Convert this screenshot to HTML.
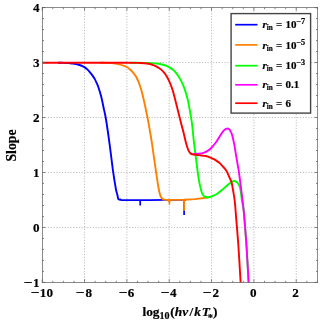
<!DOCTYPE html>
<html><head><meta charset="utf-8"><style>
html,body{margin:0;padding:0;background:#fff}
#p{position:relative;width:322px;height:322px;overflow:hidden;background:#fff;font-family:"Liberation Serif",serif;font-weight:bold;color:#000}
#t{-webkit-text-stroke:0.2px #000;position:absolute;left:0;top:0;width:322px;height:322px;will-change:transform;background:transparent}
.xt{position:absolute;width:40px;text-align:center;font-size:13.1px;line-height:15px}
.yt{position:absolute;left:0;width:39.5px;text-align:right;font-size:13.1px;line-height:15px}
.lg{position:absolute;font-size:11px;word-spacing:0.5px;-webkit-text-stroke:0.2px #000;line-height:15px;white-space:nowrap}
.lg sub{font-size:7.2px;vertical-align:baseline;position:relative;top:2px}
.lg sup{font-size:8.3px;letter-spacing:-0.3px;vertical-align:baseline;position:relative;top:-4px}
.mn{display:inline-block;transform:scaleX(1.2);transform-origin:100% 50%;margin:0 0.6px 0 1.5px}
.xl{position:absolute;left:80px;width:200px;text-align:center;top:304.1px;font-size:13.4px;line-height:15px;white-space:nowrap}
.xl sub{font-size:10px;vertical-align:baseline;position:relative;top:3px}
.xl sub.st{font-size:10.5px;margin-left:-2.2px;top:4.5px}
.yl{position:absolute;left:-39.2px;top:137.5px;width:100px;height:15px;line-height:15px;text-align:center;font-size:13.8px;transform:rotate(-90deg);transform-origin:50% 50%}
</style></head><body><div id="p">
<svg width="322" height="322" viewBox="0 0 322 322" style="position:absolute;left:0;top:0">
<rect width="322" height="322" fill="#fff"/>
<g stroke="#ababab" stroke-width="0.85" stroke-dasharray="1.1 1.7" fill="none"><line x1="84.54" y1="7.60" x2="84.54" y2="282.40"/><line x1="126.88" y1="7.60" x2="126.88" y2="282.40"/><line x1="169.22" y1="7.60" x2="169.22" y2="282.40"/><line x1="211.56" y1="7.60" x2="211.56" y2="282.40"/><line x1="253.90" y1="7.60" x2="253.90" y2="282.40"/><line x1="296.24" y1="7.60" x2="296.24" y2="282.40"/><line x1="42.40" y1="227.44" x2="317.60" y2="227.44"/><line x1="42.40" y1="172.48" x2="317.60" y2="172.48"/><line x1="42.40" y1="117.52" x2="317.60" y2="117.52"/><line x1="42.40" y1="62.56" x2="317.60" y2="62.56"/></g>
<defs><clipPath id="c"><rect x="42.40" y="7.60" width="275.20" height="274.80"/></clipPath></defs>
<g clip-path="url(#c)" fill="none" stroke-width="1.9" stroke-linejoin="round" stroke-linecap="butt">
<path stroke="#0000ff" d="M58.00,62.70 C58.67,62.72 60.23,62.75 62.00,62.80 C63.77,62.85 66.77,62.87 68.60,63.00 C70.43,63.13 71.45,63.35 73.00,63.60 C74.55,63.85 76.57,64.18 77.90,64.50 C79.23,64.82 79.92,65.07 81.00,65.50 C82.08,65.93 83.35,66.45 84.40,67.10 C85.45,67.75 86.37,68.53 87.30,69.40 C88.23,70.27 89.15,71.30 90.00,72.30 C90.85,73.30 91.62,74.30 92.40,75.40 C93.18,76.50 94.00,77.67 94.70,78.90 C95.40,80.13 95.98,81.42 96.60,82.80 C97.22,84.18 97.63,84.90 98.40,87.20 C99.17,89.50 100.27,92.87 101.20,96.60 C102.13,100.33 103.18,105.70 104.00,109.60 C104.82,113.50 105.15,114.13 106.10,120.00 C107.05,125.87 108.52,136.10 109.70,144.80 C110.88,153.50 112.17,164.83 113.20,172.20 C114.23,179.57 115.20,185.20 115.90,189.00 C116.60,192.80 117.02,193.40 117.40,195.00 C117.78,196.60 117.93,197.77 118.20,198.60 C118.47,199.43 118.87,199.77 119.00,200.00"/>
<path stroke="#0000ff" stroke-width="1.7" d="M119.00,200.00 L120.20,199.30 L121.50,200.20 L150.00,200.10 L165.00,199.90 L186.00,199.80"/>
<path stroke="#0000ff" stroke-width="1.7" d="M140.2,200 V205.4 M184.1,200 V215.1"/>
<path stroke="#ff8000" d="M100.00,62.70 C101.33,62.73 105.67,62.78 108.00,62.90 C110.33,63.02 112.17,63.17 114.00,63.40 C115.83,63.63 117.42,63.93 119.00,64.30 C120.58,64.67 122.13,65.10 123.50,65.60 C124.87,66.10 126.12,66.65 127.20,67.30 C128.28,67.95 128.98,68.58 130.00,69.50 C131.02,70.42 132.23,71.52 133.30,72.80 C134.37,74.08 135.33,75.17 136.40,77.20 C137.47,79.23 138.63,81.90 139.70,85.00 C140.77,88.10 141.50,90.38 142.80,95.80 C144.10,101.22 146.08,110.27 147.50,117.50 C148.92,124.73 150.28,132.98 151.30,139.20 C152.32,145.42 152.80,149.30 153.60,154.80 C154.40,160.30 155.33,167.00 156.10,172.20 C156.87,177.40 157.62,182.53 158.20,186.00 C158.78,189.47 159.13,191.17 159.60,193.00 C160.07,194.83 160.50,196.00 161.00,197.00 C161.50,198.00 161.97,198.52 162.60,199.00 C163.23,199.48 164.43,199.75 164.80,199.90"/>
<path stroke="#ff8000" stroke-width="1.9" d="M184.1,200 V210.8"/>
<path fill="#ff8000" stroke="none" d="M167.9,200 L170.9,200 L169.8,204.9 L169.0,204.9 Z"/>
<path stroke="#ff8000" stroke-width="1.9" d="M164.80,199.90 L184.00,199.80 L195.00,199.10 L206.00,197.70 L210.00,197.10"/>
<path stroke="#00ff00" d="M130.00,62.70 C133.00,62.73 143.67,62.77 148.00,62.90 C152.33,63.03 153.83,63.28 156.00,63.50 C158.17,63.72 159.33,63.85 161.00,64.20 C162.67,64.55 164.45,64.98 166.00,65.60 C167.55,66.22 168.88,66.97 170.30,67.90 C171.72,68.83 173.20,69.90 174.50,71.20 C175.80,72.50 176.95,74.02 178.10,75.70 C179.25,77.38 180.37,79.23 181.40,81.30 C182.43,83.37 183.40,85.65 184.30,88.10 C185.20,90.55 186.03,93.17 186.80,96.00 C187.57,98.83 188.03,100.48 188.90,105.10 C189.77,109.72 191.22,118.02 192.00,123.70 C192.78,129.38 193.00,133.90 193.60,139.20 C194.20,144.50 194.77,149.00 195.60,155.50 C196.43,162.00 197.83,173.03 198.60,178.20 C199.37,183.37 199.68,184.17 200.20,186.50 C200.72,188.83 201.23,190.78 201.70,192.20 C202.17,193.62 202.48,194.27 203.00,195.00 C203.52,195.73 204.13,196.23 204.80,196.60 C205.47,196.97 206.22,197.13 207.00,197.20 C207.78,197.27 208.50,197.23 209.50,197.00 C210.50,196.77 211.72,196.35 213.00,195.80 C214.28,195.25 215.70,194.67 217.20,193.70 C218.70,192.73 220.45,191.28 222.00,190.00 C223.55,188.72 225.17,187.17 226.50,186.00 C227.83,184.83 228.97,183.78 230.00,183.00 C231.03,182.22 231.97,181.63 232.70,181.30 C233.43,180.97 233.88,180.95 234.40,181.00 C234.92,181.05 235.33,181.33 235.80,181.60 C236.27,181.87 236.73,182.17 237.20,182.60 C237.67,183.03 238.20,183.57 238.60,184.20 C239.00,184.83 239.32,185.63 239.60,186.40 C239.88,187.17 240.03,187.40 240.30,188.80 C240.57,190.20 240.92,192.77 241.20,194.80 C241.48,196.83 241.60,198.60 242.00,201.00 C242.40,203.40 243.17,205.87 243.60,209.20 C244.03,212.53 244.12,214.87 244.60,221.00 C245.08,227.13 245.83,235.83 246.50,246.00 C247.17,256.17 248.18,274.67 248.60,282.00 C249.02,289.33 248.93,288.67 249.00,290.00"/>
<path stroke="#ff00ff" d="M192.50,154.20 C192.92,154.14 194.08,153.93 195.00,153.85 C195.92,153.77 196.97,153.77 198.00,153.70 C199.03,153.62 200.27,153.55 201.20,153.40 C202.13,153.25 202.82,153.07 203.60,152.80 C204.38,152.53 205.13,152.18 205.90,151.80 C206.67,151.42 207.43,151.02 208.20,150.50 C208.97,149.98 209.72,149.42 210.50,148.70 C211.28,147.98 212.12,147.10 212.90,146.20 C213.68,145.30 214.43,144.35 215.20,143.30 C215.97,142.25 216.73,141.07 217.50,139.90 C218.27,138.73 219.08,137.42 219.80,136.30 C220.52,135.18 221.15,134.15 221.80,133.20 C222.45,132.25 223.17,131.23 223.70,130.60 C224.23,129.97 224.60,129.69 225.00,129.40 C225.40,129.11 225.67,129.00 226.10,128.85 C226.53,128.70 227.18,128.51 227.60,128.50 C228.02,128.49 228.28,128.62 228.60,128.80 C228.92,128.98 229.18,129.22 229.50,129.60 C229.82,129.98 230.17,130.50 230.50,131.10 C230.83,131.70 231.20,132.43 231.50,133.20 C231.80,133.97 232.05,134.80 232.30,135.70 C232.55,136.60 232.75,137.50 233.00,138.60 C233.25,139.70 233.53,141.00 233.80,142.30 C234.07,143.60 234.22,144.17 234.60,146.40 C234.98,148.63 235.58,152.60 236.10,155.70 C236.62,158.80 237.27,162.53 237.70,165.00 C238.13,167.47 238.28,167.73 238.70,170.50 C239.12,173.27 239.70,177.80 240.20,181.60 C240.70,185.40 241.18,189.02 241.70,193.30 C242.22,197.58 242.82,202.68 243.30,207.30 C243.78,211.92 244.07,214.55 244.60,221.00 C245.13,227.45 245.83,235.83 246.50,246.00 C247.17,256.17 248.18,274.67 248.60,282.00 C249.02,289.33 248.93,288.67 249.00,290.00"/>
<path stroke="#ff0000" d="M42.20,62.70 C56.00,62.70 108.70,62.66 125.00,62.70 C141.30,62.74 136.07,62.77 140.00,62.95 C143.93,63.13 146.35,63.42 148.60,63.80 C150.85,64.17 151.95,64.62 153.50,65.20 C155.05,65.78 156.62,66.57 157.90,67.30 C159.18,68.03 160.17,68.72 161.20,69.60 C162.23,70.48 163.20,71.50 164.10,72.60 C165.00,73.70 165.82,74.92 166.60,76.20 C167.38,77.48 168.03,78.67 168.80,80.30 C169.57,81.93 170.43,83.93 171.20,86.00 C171.97,88.07 172.25,88.48 173.40,92.70 C174.55,96.92 176.80,106.13 178.10,111.30 C179.40,116.47 180.32,120.25 181.20,123.70 C182.08,127.15 182.62,128.88 183.40,132.00 C184.18,135.12 185.25,139.87 185.90,142.40 C186.55,144.93 186.85,145.83 187.30,147.20 C187.75,148.57 188.10,149.58 188.60,150.60 C189.10,151.62 189.65,152.68 190.30,153.30 C190.95,153.92 191.72,154.07 192.50,154.30 C193.28,154.53 193.98,154.57 195.00,154.70 C196.02,154.83 197.05,154.90 198.60,155.10 C200.15,155.30 202.85,155.68 204.30,155.90 C205.75,156.12 206.27,156.12 207.30,156.40 C208.33,156.68 209.38,157.13 210.50,157.60 C211.62,158.07 212.97,158.65 214.00,159.20 C215.03,159.75 215.87,160.33 216.70,160.90 C217.53,161.47 218.22,161.95 219.00,162.60 C219.78,163.25 220.62,164.00 221.40,164.80 C222.18,165.60 222.90,166.43 223.70,167.40 C224.50,168.37 225.48,169.50 226.20,170.60 C226.92,171.70 227.40,172.73 228.00,174.00 C228.60,175.27 229.20,176.80 229.80,178.20 C230.40,179.60 231.03,180.27 231.60,182.40 C232.17,184.53 232.67,187.90 233.20,191.00 C233.72,194.10 234.23,196.22 234.75,201.00 C235.27,205.78 235.69,212.20 236.30,219.70 C236.91,227.20 237.68,235.62 238.40,246.00 C239.12,256.38 240.17,274.67 240.60,282.00 C241.03,289.33 240.93,288.67 241.00,290.00"/>
</g>
<g stroke="#5a5a5a" stroke-width="0.75"><line x1="42.20" y1="282.40" x2="42.20" y2="279.40"/><line x1="42.20" y1="7.60" x2="42.20" y2="10.60"/><line x1="52.78" y1="282.40" x2="52.78" y2="280.80"/><line x1="52.78" y1="7.60" x2="52.78" y2="9.20"/><line x1="63.37" y1="282.40" x2="63.37" y2="280.80"/><line x1="63.37" y1="7.60" x2="63.37" y2="9.20"/><line x1="73.95" y1="282.40" x2="73.95" y2="280.80"/><line x1="73.95" y1="7.60" x2="73.95" y2="9.20"/><line x1="84.54" y1="282.40" x2="84.54" y2="279.40"/><line x1="84.54" y1="7.60" x2="84.54" y2="10.60"/><line x1="95.12" y1="282.40" x2="95.12" y2="280.80"/><line x1="95.12" y1="7.60" x2="95.12" y2="9.20"/><line x1="105.71" y1="282.40" x2="105.71" y2="280.80"/><line x1="105.71" y1="7.60" x2="105.71" y2="9.20"/><line x1="116.29" y1="282.40" x2="116.29" y2="280.80"/><line x1="116.29" y1="7.60" x2="116.29" y2="9.20"/><line x1="126.88" y1="282.40" x2="126.88" y2="279.40"/><line x1="126.88" y1="7.60" x2="126.88" y2="10.60"/><line x1="137.47" y1="282.40" x2="137.47" y2="280.80"/><line x1="137.47" y1="7.60" x2="137.47" y2="9.20"/><line x1="148.05" y1="282.40" x2="148.05" y2="280.80"/><line x1="148.05" y1="7.60" x2="148.05" y2="9.20"/><line x1="158.63" y1="282.40" x2="158.63" y2="280.80"/><line x1="158.63" y1="7.60" x2="158.63" y2="9.20"/><line x1="169.22" y1="282.40" x2="169.22" y2="279.40"/><line x1="169.22" y1="7.60" x2="169.22" y2="10.60"/><line x1="179.81" y1="282.40" x2="179.81" y2="280.80"/><line x1="179.81" y1="7.60" x2="179.81" y2="9.20"/><line x1="190.39" y1="282.40" x2="190.39" y2="280.80"/><line x1="190.39" y1="7.60" x2="190.39" y2="9.20"/><line x1="200.97" y1="282.40" x2="200.97" y2="280.80"/><line x1="200.97" y1="7.60" x2="200.97" y2="9.20"/><line x1="211.56" y1="282.40" x2="211.56" y2="279.40"/><line x1="211.56" y1="7.60" x2="211.56" y2="10.60"/><line x1="222.15" y1="282.40" x2="222.15" y2="280.80"/><line x1="222.15" y1="7.60" x2="222.15" y2="9.20"/><line x1="232.73" y1="282.40" x2="232.73" y2="280.80"/><line x1="232.73" y1="7.60" x2="232.73" y2="9.20"/><line x1="243.31" y1="282.40" x2="243.31" y2="280.80"/><line x1="243.31" y1="7.60" x2="243.31" y2="9.20"/><line x1="253.90" y1="282.40" x2="253.90" y2="279.40"/><line x1="253.90" y1="7.60" x2="253.90" y2="10.60"/><line x1="264.49" y1="282.40" x2="264.49" y2="280.80"/><line x1="264.49" y1="7.60" x2="264.49" y2="9.20"/><line x1="275.07" y1="282.40" x2="275.07" y2="280.80"/><line x1="275.07" y1="7.60" x2="275.07" y2="9.20"/><line x1="285.66" y1="282.40" x2="285.66" y2="280.80"/><line x1="285.66" y1="7.60" x2="285.66" y2="9.20"/><line x1="296.24" y1="282.40" x2="296.24" y2="279.40"/><line x1="296.24" y1="7.60" x2="296.24" y2="10.60"/><line x1="306.82" y1="282.40" x2="306.82" y2="280.80"/><line x1="306.82" y1="7.60" x2="306.82" y2="9.20"/><line x1="317.41" y1="282.40" x2="317.41" y2="280.80"/><line x1="317.41" y1="7.60" x2="317.41" y2="9.20"/><line x1="42.40" y1="282.40" x2="45.40" y2="282.40"/><line x1="317.60" y1="282.40" x2="314.60" y2="282.40"/><line x1="42.40" y1="271.41" x2="44.00" y2="271.41"/><line x1="317.60" y1="271.41" x2="316.00" y2="271.41"/><line x1="42.40" y1="260.42" x2="44.00" y2="260.42"/><line x1="317.60" y1="260.42" x2="316.00" y2="260.42"/><line x1="42.40" y1="249.42" x2="44.00" y2="249.42"/><line x1="317.60" y1="249.42" x2="316.00" y2="249.42"/><line x1="42.40" y1="238.43" x2="44.00" y2="238.43"/><line x1="317.60" y1="238.43" x2="316.00" y2="238.43"/><line x1="42.40" y1="227.44" x2="45.40" y2="227.44"/><line x1="317.60" y1="227.44" x2="314.60" y2="227.44"/><line x1="42.40" y1="216.45" x2="44.00" y2="216.45"/><line x1="317.60" y1="216.45" x2="316.00" y2="216.45"/><line x1="42.40" y1="205.46" x2="44.00" y2="205.46"/><line x1="317.60" y1="205.46" x2="316.00" y2="205.46"/><line x1="42.40" y1="194.46" x2="44.00" y2="194.46"/><line x1="317.60" y1="194.46" x2="316.00" y2="194.46"/><line x1="42.40" y1="183.47" x2="44.00" y2="183.47"/><line x1="317.60" y1="183.47" x2="316.00" y2="183.47"/><line x1="42.40" y1="172.48" x2="45.40" y2="172.48"/><line x1="317.60" y1="172.48" x2="314.60" y2="172.48"/><line x1="42.40" y1="161.49" x2="44.00" y2="161.49"/><line x1="317.60" y1="161.49" x2="316.00" y2="161.49"/><line x1="42.40" y1="150.50" x2="44.00" y2="150.50"/><line x1="317.60" y1="150.50" x2="316.00" y2="150.50"/><line x1="42.40" y1="139.50" x2="44.00" y2="139.50"/><line x1="317.60" y1="139.50" x2="316.00" y2="139.50"/><line x1="42.40" y1="128.51" x2="44.00" y2="128.51"/><line x1="317.60" y1="128.51" x2="316.00" y2="128.51"/><line x1="42.40" y1="117.52" x2="45.40" y2="117.52"/><line x1="317.60" y1="117.52" x2="314.60" y2="117.52"/><line x1="42.40" y1="106.53" x2="44.00" y2="106.53"/><line x1="317.60" y1="106.53" x2="316.00" y2="106.53"/><line x1="42.40" y1="95.54" x2="44.00" y2="95.54"/><line x1="317.60" y1="95.54" x2="316.00" y2="95.54"/><line x1="42.40" y1="84.54" x2="44.00" y2="84.54"/><line x1="317.60" y1="84.54" x2="316.00" y2="84.54"/><line x1="42.40" y1="73.55" x2="44.00" y2="73.55"/><line x1="317.60" y1="73.55" x2="316.00" y2="73.55"/><line x1="42.40" y1="62.56" x2="45.40" y2="62.56"/><line x1="317.60" y1="62.56" x2="314.60" y2="62.56"/><line x1="42.40" y1="51.57" x2="44.00" y2="51.57"/><line x1="317.60" y1="51.57" x2="316.00" y2="51.57"/><line x1="42.40" y1="40.58" x2="44.00" y2="40.58"/><line x1="317.60" y1="40.58" x2="316.00" y2="40.58"/><line x1="42.40" y1="29.58" x2="44.00" y2="29.58"/><line x1="317.60" y1="29.58" x2="316.00" y2="29.58"/><line x1="42.40" y1="18.59" x2="44.00" y2="18.59"/><line x1="317.60" y1="18.59" x2="316.00" y2="18.59"/><line x1="42.40" y1="7.60" x2="45.40" y2="7.60"/><line x1="317.60" y1="7.60" x2="314.60" y2="7.60"/></g>
<rect x="42.40" y="7.60" width="275.20" height="274.80" fill="none" stroke="#5a5a5a" stroke-width="0.7"/>
<rect x="231.1" y="13.6" width="79.5" height="99.5" fill="#fff" stroke="#444" stroke-width="1.4"/>
<line x1="235.2" y1="24.7" x2="257.5" y2="24.7" stroke="#0000ff" stroke-width="1.7"/>
<line x1="235.2" y1="44.9" x2="257.5" y2="44.9" stroke="#ff8000" stroke-width="1.7"/>
<line x1="235.2" y1="65.7" x2="257.5" y2="65.7" stroke="#00ff00" stroke-width="1.7"/>
<line x1="235.2" y1="84.8" x2="257.5" y2="84.8" stroke="#ff00ff" stroke-width="1.7"/>
<line x1="235.2" y1="103.2" x2="257.5" y2="103.2" stroke="#ff0000" stroke-width="1.7"/>
</svg>
<div id="t">
<div class="lg" style="left:262.5px;top:17.3px"><i>r</i><sub>in</sub> = 10<sup>−7</sup></div>
<div class="lg" style="left:262.5px;top:37.5px"><i>r</i><sub>in</sub> = 10<sup>−5</sup></div>
<div class="lg" style="left:262.5px;top:58.3px"><i>r</i><sub>in</sub> = 10<sup>−3</sup></div>
<div class="lg" style="left:262.5px;top:77.4px"><i>r</i><sub>in</sub> = 0.1</div>
<div class="lg" style="left:262.5px;top:95.8px"><i>r</i><sub>in</sub> = 6</div>
<div class="xt" style="left:21.6px;top:284.9px"><span class="mn">−</span>10</div>
<div class="xt" style="left:63.9px;top:284.9px"><span class="mn">−</span>8</div>
<div class="xt" style="left:106.3px;top:284.9px"><span class="mn">−</span>6</div>
<div class="xt" style="left:148.6px;top:284.9px"><span class="mn">−</span>4</div>
<div class="xt" style="left:191.0px;top:284.9px"><span class="mn">−</span>2</div>
<div class="xt" style="left:233.3px;top:284.9px">0</div>
<div class="xt" style="left:275.6px;top:284.9px">2</div>
<div class="yt" style="top:274.7px"><span class="mn">−</span>1</div>
<div class="yt" style="top:219.7px">0</div>
<div class="yt" style="top:164.8px">1</div>
<div class="yt" style="top:109.8px">2</div>
<div class="yt" style="top:54.9px">3</div>
<div class="yt" style="top:-0.1px">4</div>
<div class="xl">log<sub>10</sub><span style="margin-left:0.8px">(</span><i>h</i><i>ν</i><span style="margin:0 1px 0 1.2px">/</span><i>k</i><i style="margin-left:1px">T</i><sub class="st">*</sub>)</div>
<div class="yl">Slope</div>
</div>
</div></body></html>
